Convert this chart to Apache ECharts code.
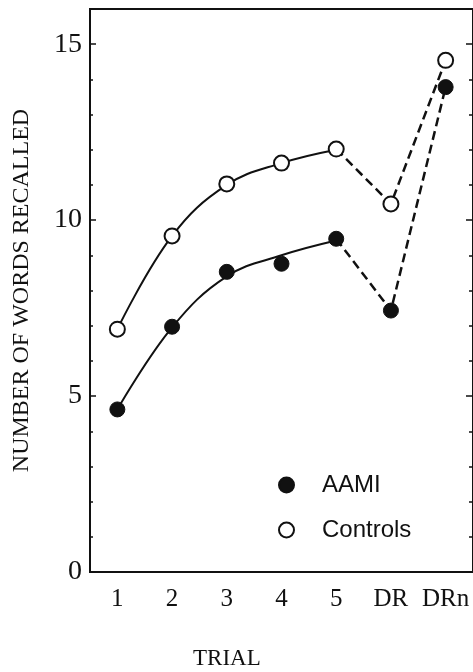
<!DOCTYPE html>
<html>
<head>
<meta charset="utf-8">
<script src="https://cdn.jsdelivr.net/npm/echarts@6/dist/echarts.min.js"></script>
<style>html,body{margin:0;padding:0;background:#fff;}#c{width:473px;height:672px;}</style>
</head>
<body>
<div id="c"></div>
<script>
// Categories (trials)
var trials = ['1', '2', '3', '4', '5', 'DR', 'DRn'];
// Observed means
var aami = [4.62, 6.97, 8.53, 8.76, 9.47, 7.43, 13.78];
var controls = [6.9, 9.55, 11.03, 11.62, 12.02, 10.46, 14.54];
// Fitted learning curves over trials 1-5
var aamiFit = [4.62, 6.95, 8.4, 9.0, 9.42, null, null];
var controlsFit = [6.9, 9.55, 11.0, 11.62, 12.0, null, null];
// Dashed segments: trial 5 -> DR -> DRn
var aamiDash = [null, null, null, null, 9.47, 7.43, 13.78];
var controlsDash = [null, null, null, null, 12.02, 10.46, 14.54];
// Y tick labels shown
var yLabelValues = [0, 5, 10, 15];

var chart = echarts.init(document.getElementById('c'), null, {renderer: 'canvas'});
var serif = 'Liberation Serif';
var ink = '#111';

function yAx(pos, showLabels, tickLen, interval) {
  return {
    type: 'value', position: pos, min: 0, max: 16, interval: interval,
    axisLine: {show: true, lineStyle: {color: ink, width: 2}},
    axisTick: {show: true, inside: true, length: tickLen, lineStyle: {color: ink, width: 1.5}},
    splitLine: {show: false},
    axisLabel: {
      show: showLabels, color: ink, fontFamily: serif, fontSize: 28, margin: 8,
      padding: [7, 0, 0, 0],
      formatter: function (v) { return yLabelValues.indexOf(v) >= 0 ? String(v) : ''; }
    }
  };
}

var left = yAx('left', true, 3, 1);
left.name = 'NUMBER OF WORDS RECALLED';
left.nameLocation = 'middle';
left.nameGap = 56;
left.nameTextStyle = {color: ink, fontFamily: serif, fontSize: 24};
var right = yAx('right', false, 4, 1);
var leftMajor = yAx('left', false, 6, 5);
var rightMajor = yAx('right', false, 7, 5);

chart.setOption({
  animation: false,
  backgroundColor: '#fff',
  grid: {left: 90, top: 9, right: -4, bottom: 100, show: true, borderColor: ink, borderWidth: 2, backgroundColor: 'transparent'},
  title: {text: 'TRIAL', left: 188, top: 642, textStyle: {color: ink, fontFamily: serif, fontSize: 23, fontWeight: 'normal'}},
  legend: {
    orient: 'vertical', left: 273, top: 468, itemWidth: 15, itemHeight: 15, itemGap: 21,
    data: [{name: 'AAMI', icon: 'circle'}, {name: 'Controls', icon: 'circle'}],
    textStyle: {color: ink, fontFamily: 'Liberation Sans', fontSize: 24, padding: [0, 0, 0, 23]}
  },
  xAxis: {
    type: 'category', data: trials, boundaryGap: true,
    axisLine: {lineStyle: {color: ink, width: 2}},
    axisTick: {alignWithLabel: true, length: 5, interval: 0, lineStyle: {color: ink, width: 1.5}},
    axisLabel: {color: ink, fontFamily: serif, fontSize: 25, margin: 15, interval: 0}
  },
  yAxis: [left, right, leftMajor, rightMajor],
  series: [
    {name: 'controlsFit', type: 'line', data: controlsFit, smooth: 0.4, showSymbol: false, symbol: 'none',
     lineStyle: {color: ink, width: 2}, silent: true, z: 2},
    {name: 'aamiFit', type: 'line', data: aamiFit, smooth: 0.4, showSymbol: false, symbol: 'none',
     lineStyle: {color: ink, width: 2}, silent: true, z: 2},
    {name: 'controlsDash', type: 'line', data: controlsDash, symbol: 'none',
     lineStyle: {color: ink, width: 2.5, type: [9, 5]}, silent: true, z: 2},
    {name: 'aamiDash', type: 'line', data: aamiDash, symbol: 'none',
     lineStyle: {color: ink, width: 2.5, type: [9, 5]}, silent: true, z: 2},
    {name: 'AAMI', type: 'scatter', data: aami, symbol: 'circle', symbolSize: 15,
     itemStyle: {color: ink, borderColor: ink, borderWidth: 1, opacity: 1}, z: 5},
    {name: 'Controls', type: 'scatter', data: controls, symbol: 'circle', symbolSize: 15,
     itemStyle: {color: '#fff', borderColor: ink, borderWidth: 2, opacity: 1}, z: 5}
  ]
});
</script>
</body>
</html>
